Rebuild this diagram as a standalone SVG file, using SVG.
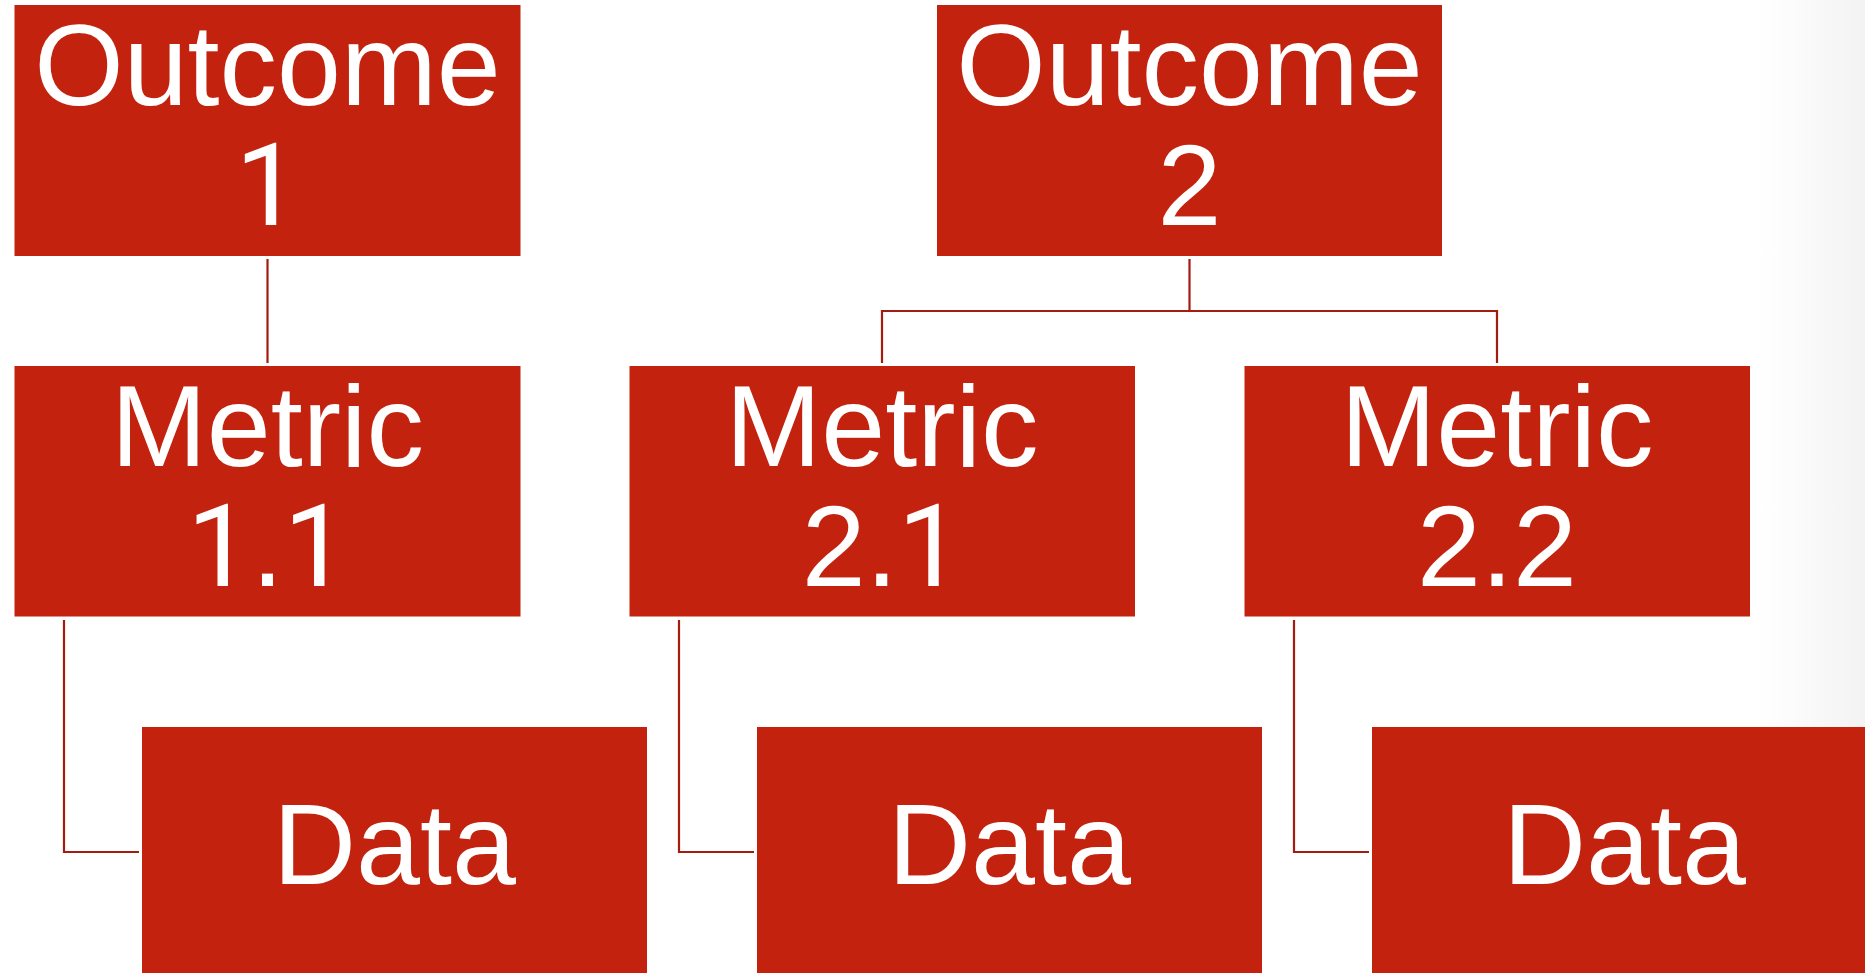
<svg xmlns="http://www.w3.org/2000/svg" width="1865" height="973" viewBox="0 0 1865 973">
<style>
.box{fill:#C3220E}
.t{font-family:"Liberation Sans",Arial,sans-serif;font-size:115px;fill:#FFFFFF;text-anchor:middle}
.one{font-family:Roboto,"Liberation Sans",sans-serif}
.c{fill:none;stroke:#A31C10;stroke-width:2.2}
</style>
<defs>
<linearGradient id="edge" x1="0" y1="0" x2="1" y2="0">
<stop offset="0" stop-color="#FFFFFF"/>
<stop offset="1" stop-color="#F3F3F3"/>
</linearGradient>
</defs>
<rect x="0" y="0" width="1865" height="973" fill="#FFFFFF"/>
<rect x="1760" y="0" width="105" height="973" fill="url(#edge)"/>
<g id="connectors">
<path class="c" d="M267.5 259 V363"/>
<path class="c" d="M1189.5 259 V311 M882 363 V311 H1497 V363"/>
<path class="c" d="M64 620 V852 H139"/>
<path class="c" d="M679 620 V852 H754"/>
<path class="c" d="M1294 620 V852 H1369"/>
</g>
<g id="outcome1">
<rect class="box" x="14.5" y="5" width="506" height="251"/>
<text class="t" x="267.5" y="105">Outcome</text>
<text class="t" x="267.5" y="225"><tspan class="one">1</tspan></text>
</g>
<g id="outcome2">
<rect class="box" x="937" y="5" width="505" height="251"/>
<text class="t" x="1189.5" y="105">Outcome</text>
<text class="t" x="1189.5" y="225">2</text>
</g>
<g id="metric11">
<rect class="box" x="14.5" y="366" width="506" height="250.5"/>
<text class="t" x="267.5" y="466">Metric</text>
<text class="t" x="267.5" y="586"><tspan class="one">1</tspan>.<tspan class="one">1</tspan></text>
</g>
<g id="metric21">
<rect class="box" x="629.5" y="366" width="505.5" height="250.5"/>
<text class="t" x="882" y="466">Metric</text>
<text class="t" x="882" y="586">2.<tspan class="one">1</tspan></text>
</g>
<g id="metric22">
<rect class="box" x="1244.5" y="366" width="505.5" height="250.5"/>
<text class="t" x="1497" y="466">Metric</text>
<text class="t" x="1497" y="586">2.2</text>
</g>
<g id="data1">
<rect class="box" x="142" y="727" width="505" height="251"/>
<text class="t" x="394.5" y="884">Data</text>
</g>
<g id="data2">
<rect class="box" x="757" y="727" width="505" height="251"/>
<text class="t" x="1009.5" y="884">Data</text>
</g>
<g id="data3">
<rect class="box" x="1372" y="727" width="505" height="251"/>
<text class="t" x="1624.5" y="884">Data</text>
</g>
</svg>
